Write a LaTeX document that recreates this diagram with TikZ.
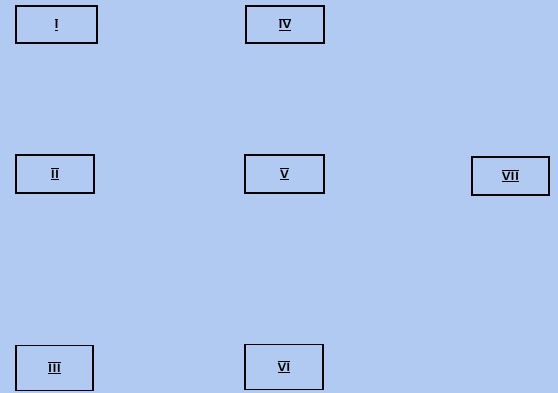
\documentclass[tikz,border=0pt]{standalone}
\definecolor{paper}{RGB}{176,202,242}
\newcommand{\barred}[1]{$\overline{\underline{\textsf{\bfseries #1}}}$}
\begin{document}
\begin{tikzpicture}[x=1pt,y=-1pt,
    box/.style={draw, line width=1.8pt, minimum width=78pt, minimum height=37pt, inner sep=0pt, font=\large}]
  \fill[paper] (0,0) rectangle (558,393);
  \useasboundingbox (0,0) rectangle (558,393);

  % top row
  \node[box, minimum width=81pt] (one) at (56.5,24.5) {\barred{I}};
  \node[box] (four) at (285,24.5) {\barred{IV}};

  % middle row
  \node[box, minimum height=38pt] (two) at (55,174) {\barred{II}};
  \node[box, minimum width=79pt, minimum height=38pt] (five) at (284.5,174) {\barred{V}};
  \node[box, minimum width=77pt, minimum height=38pt] (seven) at (510.5,176) {\barred{VII}};

  % bottom row
  \node[box, minimum width=77pt, minimum height=45pt] (three) at (54.5,368) {\barred{III}};
  \node[box, minimum height=45pt] (six) at (284,367) {\barred{VI}};
\end{tikzpicture}
\end{document}
